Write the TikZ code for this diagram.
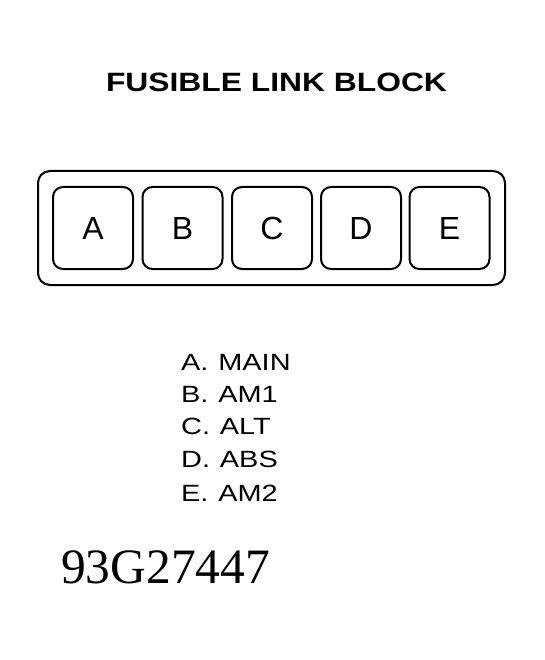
\documentclass[tikz,border=0pt]{standalone}
\usepackage{fontspec}
\setmainfont{Liberation Sans}
\newfontfamily\serifnum{Liberation Serif}
\begin{document}
\begin{tikzpicture}[x=1pt,y=-1pt,
  fuse/.style={draw,line width=2pt,rounded corners=10pt,minimum width=80pt,minimum height=82pt,inner sep=0pt,font=\fontsize{32}{36}\selectfont},
  item/.style={anchor=base west,inner sep=0pt,font=\fontsize{23.5}{26}\selectfont}]
\useasboundingbox (0,0) rectangle (544,660);
\node[anchor=base,inner sep=0pt] (title) at (276.5,92) {\scalebox{1.2}[1]{\fontsize{26.5}{30}\selectfont\bfseries FUSIBLE LINK BLOCK}};
\node[draw,line width=2pt,rounded corners=12pt,minimum width=467pt,minimum height=114pt,inner sep=0pt] (block) at (271.5,228) {};
\node[fuse] (A) at (93,228) {A};
\node[fuse] (B) at (182.5,228) {B};
\node[fuse] (C) at (272,228) {C};
\node[fuse] (D) at (361,228) {D};
\node[fuse] (E) at (449.5,228) {E};
\node[item] (la) at (181,370) {\scalebox{1.23}[1]{A.\hspace{1.5pt} MAIN}};
\node[item] (lb) at (181,402.5) {\scalebox{1.23}[1]{B.\hspace{1.5pt} AM1}};
\node[item] (lc) at (181,434.5) {\scalebox{1.23}[1]{C.\hspace{1.5pt} ALT}};
\node[item] (ld) at (181,467.5) {\scalebox{1.23}[1]{D.\hspace{1.5pt} ABS}};
\node[item] (le) at (181,501) {\scalebox{1.23}[1]{E.\hspace{1.5pt} AM2}};
\node[anchor=base west,inner sep=0pt,font=\serifnum\fontsize{49.5}{52}\selectfont] (code) at (61,583) {93G27447};
\end{tikzpicture}
\end{document}
